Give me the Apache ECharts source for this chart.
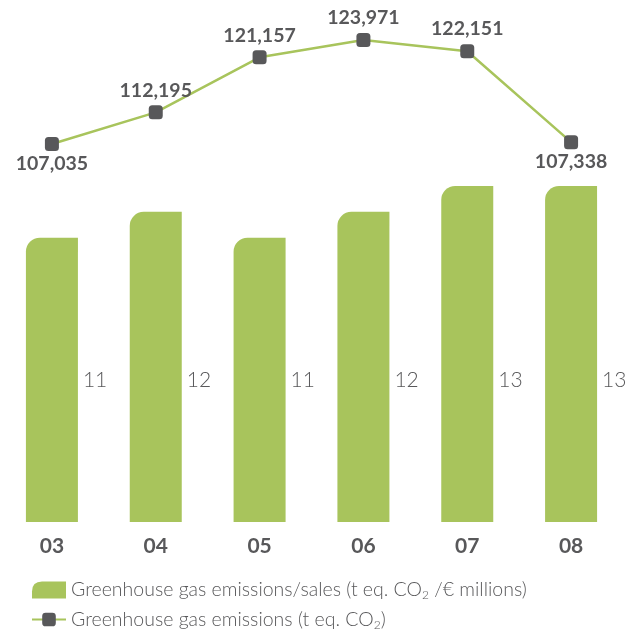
<!DOCTYPE html>
<html>
<head>
<meta charset="utf-8">
<script src="https://cdn.jsdelivr.net/npm/echarts@6/dist/echarts.min.js"></script>
<style>html,body{margin:0;padding:0;background:#fff}#c{width:629px;height:632px}</style>
</head>
<body>
<div id="c"></div>
<script>
const categories = ['03', '04', '05', '06', '07', '08'];
const intensityValues = [11, 12, 11, 12, 13, 13];
const emissionValues = [107035, 112195, 121157, 123971, 122151, 107338];
const lineLabelPositions = ['bottom', 'top', 'top', 'top', 'top', 'bottom'];
const barName = 'Greenhouse gas emissions/sales (t eq. CO{sub|2} /€ millions)';
const lineName = 'Greenhouse gas emissions (t eq. CO{sub|2})';

const green = '#a8c45c';
const dark = '#58585a';
const font = 'Lato, "Noto Sans", sans-serif';

const chart = echarts.init(document.getElementById('c'));
chart.setOption({
  animation: false,
  backgroundColor: '#fff',
  textStyle: { fontFamily: font },
  grid: { left: 0, right: 6, top: 20, bottom: 110, containLabel: false },
  legend: {
    orient: 'vertical',
    left: 26,
    top: 575,
    height: 100,
    itemWidth: 34,
    itemHeight: 17,
    itemGap: 8,
    selectedMode: false,
    textStyle: {
      fontFamily: font, fontSize: 19.5, color: dark, fontWeight: 300,
      rich: { sub: { fontFamily: font, fontSize: 12, color: dark, fontWeight: 300, verticalAlign: 'bottom', padding: [11, 0, 0, 0] } }
    },
    data: [
      { name: barName, icon: 'path://M0,10 Q0,0 10,0 L34,0 L34,17 L0,17 Z' },
      { name: lineName }
    ]
  },
  xAxis: {
    type: 'category',
    data: categories,
    axisLine: { show: false },
    axisTick: { show: false },
    axisLabel: { margin: 14, fontFamily: font, fontSize: 21, fontWeight: 'bold', color: dark }
  },
  yAxis: [
    { type: 'value', min: 0, max: 19.42, show: false, splitLine: { show: false } },
    { type: 'value', min: 45480, max: 127230, show: false, splitLine: { show: false } }
  ],
  series: [
    {
      name: barName,
      type: 'bar',
      yAxisIndex: 0,
      barWidth: 52,
      data: intensityValues,
      itemStyle: { color: green, borderRadius: [14, 0, 0, 0] },
      label: {
        show: true, position: 'insideBottomLeft', distance: 0,
        align: 'left', verticalAlign: 'middle', offset: [57, -142],
        fontFamily: font, fontSize: 21, fontWeight: 300, color: dark
      }
    },
    {
      name: lineName,
      type: 'line',
      yAxisIndex: 1,
      data: emissionValues.map((v, i) => ({
        value: v,
        label: { position: lineLabelPositions[i], distance: lineLabelPositions[i] === 'bottom' ? 3 : 5 }
      })),
      symbol: 'roundRect',
      symbolSize: 14,
      lineStyle: { color: green, width: 2.5 },
      itemStyle: { color: dark },
      label: {
        show: true,
        fontFamily: font, fontSize: 19.5, fontWeight: 'bold', color: dark,
        formatter: p => p.value.toLocaleString('en-US')
      }
    }
  ]
});
</script>
</body>
</html>
